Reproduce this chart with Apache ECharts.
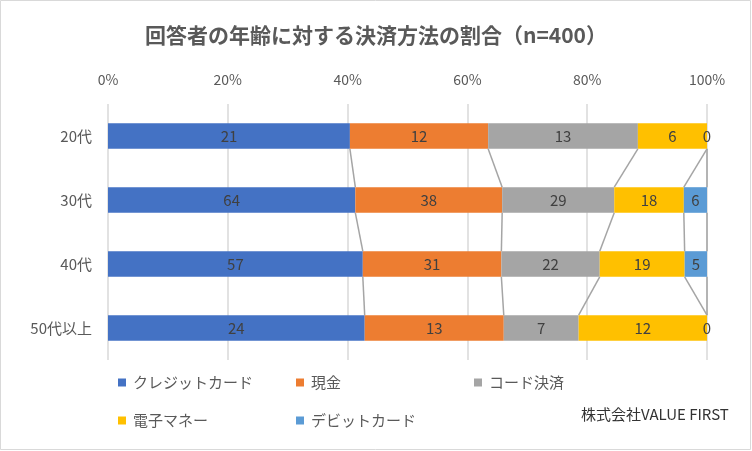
<!DOCTYPE html>
<html>
<head>
<meta charset="utf-8">
<script src="https://cdn.jsdelivr.net/npm/echarts@6/dist/echarts.min.js"></script>
<style>
html,body{margin:0;padding:0;background:#fff;}
#chart{width:752px;height:451px;}
</style>
</head>
<body>
<div id="chart"></div>
<script>
const categories = ['20代', '30代', '40代', '50代以上'];
const seriesNames = ['クレジットカード', '現金', 'コード決済', '電子マネー', 'デビットカード'];
const credit = [21, 64, 57, 24];
const cash = [12, 38, 31, 13];
const code = [13, 29, 22, 7];
const emoney = [6, 18, 19, 12];
const debit = [0, 6, 5, 0];
const xTicks = [0, 20, 40, 60, 80, 100];
const colors = ['#4472C4', '#ED7D31', '#A5A5A5', '#FFC000', '#5B9BD5'];

const raw = [credit, cash, code, emoney, debit];
const totals = categories.map((c, i) => raw.reduce((s, arr) => s + arr[i], 0));
const pct = raw.map(arr => arr.map((v, i) => v / totals[i] * 100));
const cum = [];
pct.forEach((arr, k) => {
  cum.push(arr.map((v, i) => (k > 0 ? cum[k - 1][i] : 0) + v));
});

const FONT = '"Noto Sans CJK JP", "Noto Sans", sans-serif';
const chart = echarts.init(document.getElementById('chart'), null, { renderer: 'canvas' });

const barSeries = seriesNames.map((name, k) => ({
  name: name,
  type: 'bar',
  stack: 'total',
  barWidth: '40%',
  itemStyle: { color: colors[k] },
  label: {
    show: true,
    position: 'inside',
    color: '#404040',
    fontSize: 15,
    fontFamily: FONT,
    formatter: p => String(raw[k][p.dataIndex])
  },
  emphasis: { disabled: true },
  data: pct[k]
}));

const connector = {
  type: 'custom',
  name: 'series-lines',
  silent: true,
  z: 1,
  data: categories.slice(0, categories.length - 1).map((c, i) => [0, i]),
  encode: { x: 0, y: 1 },
  renderItem: function (params, api) {
    const i = params.dataIndex;
    const band = api.size([0, 1])[1];
    const half = band * 0.4 / 2;
    const children = [];
    for (let k = 0; k < cum.length; k++) {
      const p1 = api.coord([cum[k][i], i]);
      const p2 = api.coord([cum[k][i + 1], i + 1]);
      children.push({
        type: 'line',
        shape: { x1: p1[0], y1: p1[1] + half, x2: p2[0], y2: p2[1] - half },
        style: { stroke: '#A5A5A5', lineWidth: 1.5 }
      });
    }
    return { type: 'group', children: children };
  }
};

const legendSlots = [[113, 370], [291, 370], [469, 370], [113, 408], [291, 408]];
const legends = seriesNames.map((name, k) => ({
  data: [name],
  left: legendSlots[k][0],
  top: legendSlots[k][1],
  icon: 'rect',
  itemWidth: 8,
  itemHeight: 8,
  selectedMode: false,
  textStyle: { color: '#595959', fontSize: 15, fontFamily: FONT, padding: [0, 0, 0, 2] }
}));

const option = {
  backgroundColor: '#fff',
  animation: false,
  title: [
    {
      text: '回答者の年齢に対する決済方法の割合（n=400）',
      left: 'center',
      top: 20,
      textStyle: { color: '#595959', fontSize: 21, fontWeight: 'bold', fontFamily: FONT }
    },
    {
      text: '株式会社VALUE FIRST',
      left: 576,
      top: 402,
      textStyle: { color: '#333333', fontSize: 15, fontWeight: 'normal', fontFamily: FONT }
    }
  ],
  legend: legends,
  grid: { left: 108, right: 45, top: 104, bottom: 91, containLabel: false },
  xAxis: {
    type: 'value',
    position: 'top',
    min: xTicks[0],
    max: xTicks[xTicks.length - 1],
    interval: xTicks[1] - xTicks[0],
    axisLine: { show: false },
    axisTick: { show: false },
    axisLabel: { color: '#595959', fontSize: 14, fontFamily: FONT, margin: 17, formatter: '{value}%' },
    splitLine: { show: true, lineStyle: { color: '#D9D9D9', width: 1.5 } }
  },
  yAxis: {
    type: 'category',
    inverse: true,
    data: categories,
    axisLine: { show: false },
    axisTick: { show: false },
    axisLabel: { color: '#595959', fontSize: 15, fontFamily: FONT, margin: 16 }
  },
  graphic: [
    {
      type: 'rect',
      silent: true,
      shape: { x: 0.5, y: 0.5, width: 750, height: 449 },
      style: { fill: 'none', stroke: '#D9D9D9', lineWidth: 1 }
    }
  ],
  series: barSeries.concat([connector])
};

chart.setOption(option);
</script>
</body>
</html>
